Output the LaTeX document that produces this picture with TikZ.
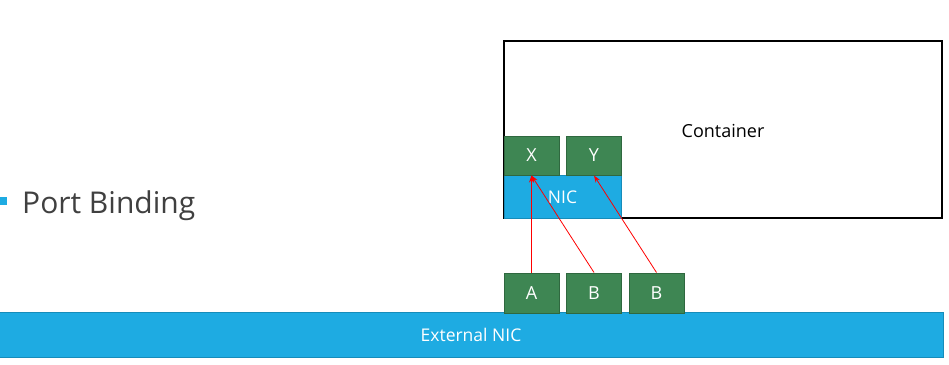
\documentclass[tikz,border=0pt]{standalone}
\usepackage{fontspec}
\setmainfont{Open Sans}
\definecolor{pbgreen}{RGB}{62,134,83}
\definecolor{pbgreenline}{RGB}{47,104,63}
\definecolor{pbcyan}{RGB}{30,171,226}
\definecolor{pbcyanline}{RGB}{22,140,186}
\definecolor{pbgray}{RGB}{64,64,64}
\usetikzlibrary{arrows.meta,positioning}

\begin{document}
\begin{tikzpicture}[x=1pt,y=-1pt,
    portbox/.style={draw=pbgreenline, fill=pbgreen, line width=1pt, inner sep=0pt, minimum width=55pt, minimum height=39pt, text=white, font=\fontsize{18}{22}\selectfont},
    nicbox/.style={draw=pbcyanline, fill=pbcyan, line width=1pt, inner sep=0pt, text=white, font=\fontsize{17.5}{22}\selectfont},
    bindarrow/.style={-{Stealth[length=7pt,width=5pt]}, red, line width=0.8pt}]
  \useasboundingbox (0,0) rectangle (949,364);

  %% --- TITLE ---
  \node[fill=pbcyan, inner sep=0pt, minimum size=8pt] (bullet) at (3,201) {};
  \node[anchor=base west, inner sep=0pt, text=pbgray, font=\fontsize{30}{36}\selectfont] (title) at (22,213) {Port Binding};

  %% --- CONTAINER ---
  \node[draw=black, line width=1.5pt, fill=white, inner sep=0pt, minimum width=438pt, minimum height=177pt] (container) at (723,129.5) {};
  \node[font=\fontsize{18}{22}\selectfont] (containerlabel) at (723,131) {Container};
  \node[nicbox, minimum width=117pt, minimum height=43pt] (nic) at (562.5,197) {NIC};
  \node[portbox] (portx) at (531.5,155.5) {X};
  \node[portbox] (porty) at (594,155.5) {Y};

  %% --- HOST ---
  \node[nicbox, minimum width=944pt, minimum height=45pt] (extnic) at (471,334.5) {External NIC};
  \node[portbox, minimum height=40pt] (porta)  at (531.5,293) {A};
  \node[portbox, minimum height=40pt] (portb)  at (594,293)   {B};
  \node[portbox, minimum height=40pt] (portbb) at (656.5,293) {B};

  %% --- BINDINGS ---
  \draw[bindarrow] (porta.north)  -- (portx.south);
  \draw[bindarrow] (portb.north)  -- (portx.south);
  \draw[bindarrow] (portbb.north) -- (porty.south);
\end{tikzpicture}
\end{document}
